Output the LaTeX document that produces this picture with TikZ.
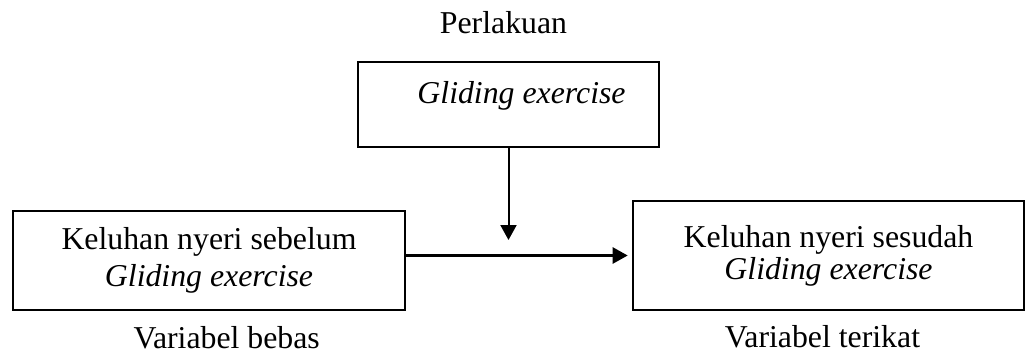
\documentclass[tikz,border=0pt]{standalone}
\usepackage{fontspec}
\setmainfont{Liberation Serif}
\usetikzlibrary{arrows.meta,positioning,calc}

\begin{document}
\begin{tikzpicture}[
  x=0.5pt,y=-0.5pt,
  font=\fontsize{15.9}{18.5}\selectfont,
  box/.style={draw,line width=1.3pt,inner sep=0pt,align=center},
  arr/.style={-{Triangle[length=7.5pt,width=8pt]},line width=1.3pt}
]
\useasboundingbox (0,0) rectangle (1025,359);
\node[anchor=base] (perl) at (503.5,33) {Perlakuan};
\node[box,minimum width=150.5pt,minimum height=42.5pt] (treat) at (508.5,104.5) {};
\node[anchor=base] (treattxt) at (521.5,103) {\textit{Gliding exercise}};
\node[box,minimum width=196pt,minimum height=49.5pt] (before) at (209,260.5)
  {Keluhan nyeri sebelum\\\textit{Gliding exercise}};
\node[box,minimum width=195.5pt,minimum height=54.5pt,font=\fontsize{15.9}{16}\selectfont] (after) at (828.5,255.5)
  {Keluhan nyeri sesudah\\\textit{Gliding exercise}};
\node[anchor=base] (indep) at (226.7,348) {Variabel bebas};
\node[anchor=base] (dep) at (822.5,347) {Variabel terikat};
\coordinate (meet) at (508.5,240);
\draw[arr,line width=1pt] (treat) -- (meet);
\draw[arr,shorten >=2pt] (before.east |- after.west) -- (after.west);
\end{tikzpicture}
\end{document}
